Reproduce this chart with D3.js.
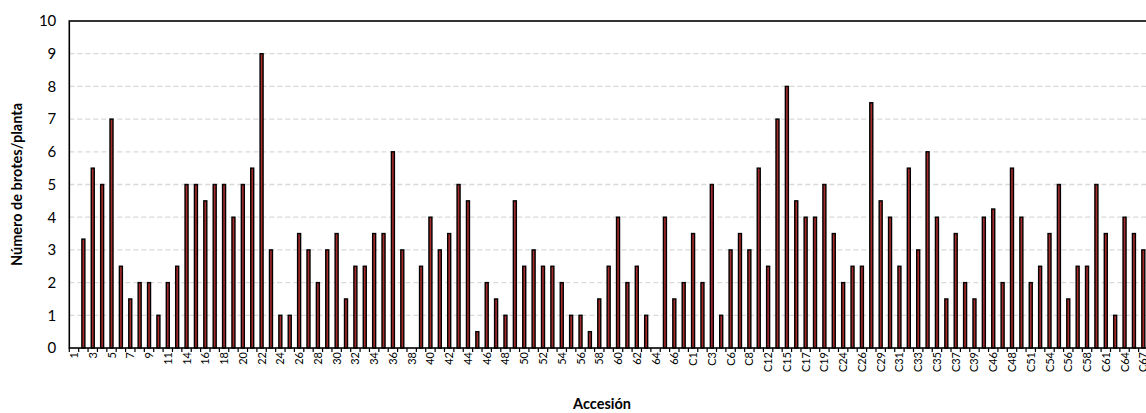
<!DOCTYPE html>
<html>
<head>
<meta charset="utf-8">
<script src="https://cdn.jsdelivr.net/npm/d3@7"></script>
<style>
  html, body { margin: 0; padding: 0; background: #fff; overflow: hidden; }
  svg { display: block; }
  text { font-family: Lato, "Open Sans", sans-serif; fill: #000; }
</style>
</head>
<body>
<svg id="chart" width="1146" height="413"></svg>
<script>
// Accessions (every other one is labelled on the axis)
const accessions = [
  "1","2","3","4","5","6","7","8","9","10","11","13","14","15","16","17","18","19","20","21",
  "22","23","24","25","26","27","28","29","30","31","32","33","34","35","36","37","38","39","40","41",
  "42","43","44","45","46","47","48","49","50","51","52","53","54","55","56","57","58","59","60","61",
  "62","63","64","65","66","67","C1","C2","C3","C5","C6","C7","C8","C10","C12","C14","C15","C16","C17","C18",
  "C19","C21","C24","C25","C26","C28","C29","C30","C31","C32","C33","C34","C35","C36","C37","C38","C39","C45","C46","C47",
  "C48","C50","C51","C53","C54","C55","C56","C57","C58","C60","C61","C63","C64","C66","C67"
];

// Shoots per plant for each accession
const shoots = [
  0,3.33,5.5,5,7,2.5,1.5,2,2,1,2,2.5,5,5,4.5,5,5,4,5,5.5,
  9,3,1,1,3.5,3,2,3,3.5,1.5,2.5,2.5,3.5,3.5,6,3,0,2.5,4,3,
  3.5,5,4.5,0.5,2,1.5,1,4.5,2.5,3,2.5,2.5,2,1,1,0.5,1.5,2.5,4,2,
  2.5,1,0,4,1.5,2,3.5,2,5,1,3,3.5,3,5.5,2.5,7,8,4.5,4,4,
  5,3.5,2,2.5,2.5,7.5,4.5,4,2.5,5.5,3,6,4,1.5,3.5,2,1.5,4,4.25,2,
  5.5,4,2,2.5,3.5,5,1.5,2.5,2.5,5,3.5,1,4,3.5,3
];

const yTicks = [0,1,2,3,4,5,6,7,8,9,10];
const yTitle = "Número de brotes/planta";
const xTitle = "Accesión";

const svg = d3.select("#chart");
const plotLeft = 69.3, plotTop = 21, plotBottom = 348, plotRight = 1148;

const x = d3.scaleBand()
  .domain(accessions)
  .range([plotLeft, plotRight])
  .paddingInner(0)
  .paddingOuter(0);

const y = d3.scaleLinear().domain([0, 10]).range([plotBottom, plotTop]);

// Dashed horizontal gridlines
svg.append("g")
  .selectAll("line")
  .data(yTicks.filter(d => d > 0 && d < 10))
  .join("line")
  .attr("x1", plotLeft).attr("x2", plotRight)
  .attr("y1", d => y(d)).attr("y2", d => y(d))
  .attr("stroke", "#d9d9d9")
  .attr("stroke-width", 1.3)
  .attr("stroke-dasharray", "5,3");

// Bars
const barW = 3;
svg.append("g")
  .selectAll("rect")
  .data(accessions.map((a, i) => ({ a, v: shoots[i] })).filter(d => d.v > 0))
  .join("rect")
  .attr("x", d => x(d.a) + x.bandwidth() / 2 - barW / 2)
  .attr("width", barW)
  .attr("y", d => y(d.v))
  .attr("height", d => y(0) - y(d.v))
  .attr("fill", "#a52a2a")
  .attr("stroke", "#000")
  .attr("stroke-width", 1.4);

// Plot frame
svg.append("rect")
  .attr("x", plotLeft).attr("y", plotTop)
  .attr("width", plotRight - plotLeft).attr("height", plotBottom - plotTop)
  .attr("fill", "none")
  .attr("stroke", "#000")
  .attr("stroke-width", 1.6);

// Y axis
const yAxis = d3.axisLeft(y).tickValues(yTicks).tickSize(0).tickPadding(13).tickFormat(d3.format("d"));
const gy = svg.append("g").attr("transform", `translate(${plotLeft},0)`).call(yAxis);
gy.select(".domain").remove();
gy.selectAll("text").style("font-size", "15px").style("font-family", "Lato, sans-serif");

// X axis: ticks at band boundaries, labels on every other accession
const gx = svg.append("g").attr("transform", `translate(0,${plotBottom})`);
gx.selectAll("line.tick")
  .data(accessions)
  .join("line")
  .attr("class", "tick")
  .attr("x1", d => x(d)).attr("x2", d => x(d))
  .attr("y1", 0).attr("y2", 4)
  .attr("stroke", "#000")
  .attr("stroke-width", 1.2);
gx.selectAll("text")
  .data(accessions.filter((d, i) => i % 2 === 0))
  .join("text")
  .attr("transform", d => `translate(${x(d) + x.bandwidth() / 2 + 4},4) rotate(-90)`)
  .attr("text-anchor", "end")
  .style("font-size", "11px")
  .text(d => d);

// Axis titles
svg.append("text")
  .attr("transform", `translate(22,${(plotTop + plotBottom) / 2}) rotate(-90)`)
  .attr("text-anchor", "middle")
  .style("font-size", "14.5px")
  .style("font-weight", "bold")
  .text(yTitle);

svg.append("text")
  .attr("x", 602).attr("y", 409)
  .attr("text-anchor", "middle")
  .style("font-size", "14.5px")
  .style("font-weight", "bold")
  .text(xTitle);
</script>
</body>
</html>
